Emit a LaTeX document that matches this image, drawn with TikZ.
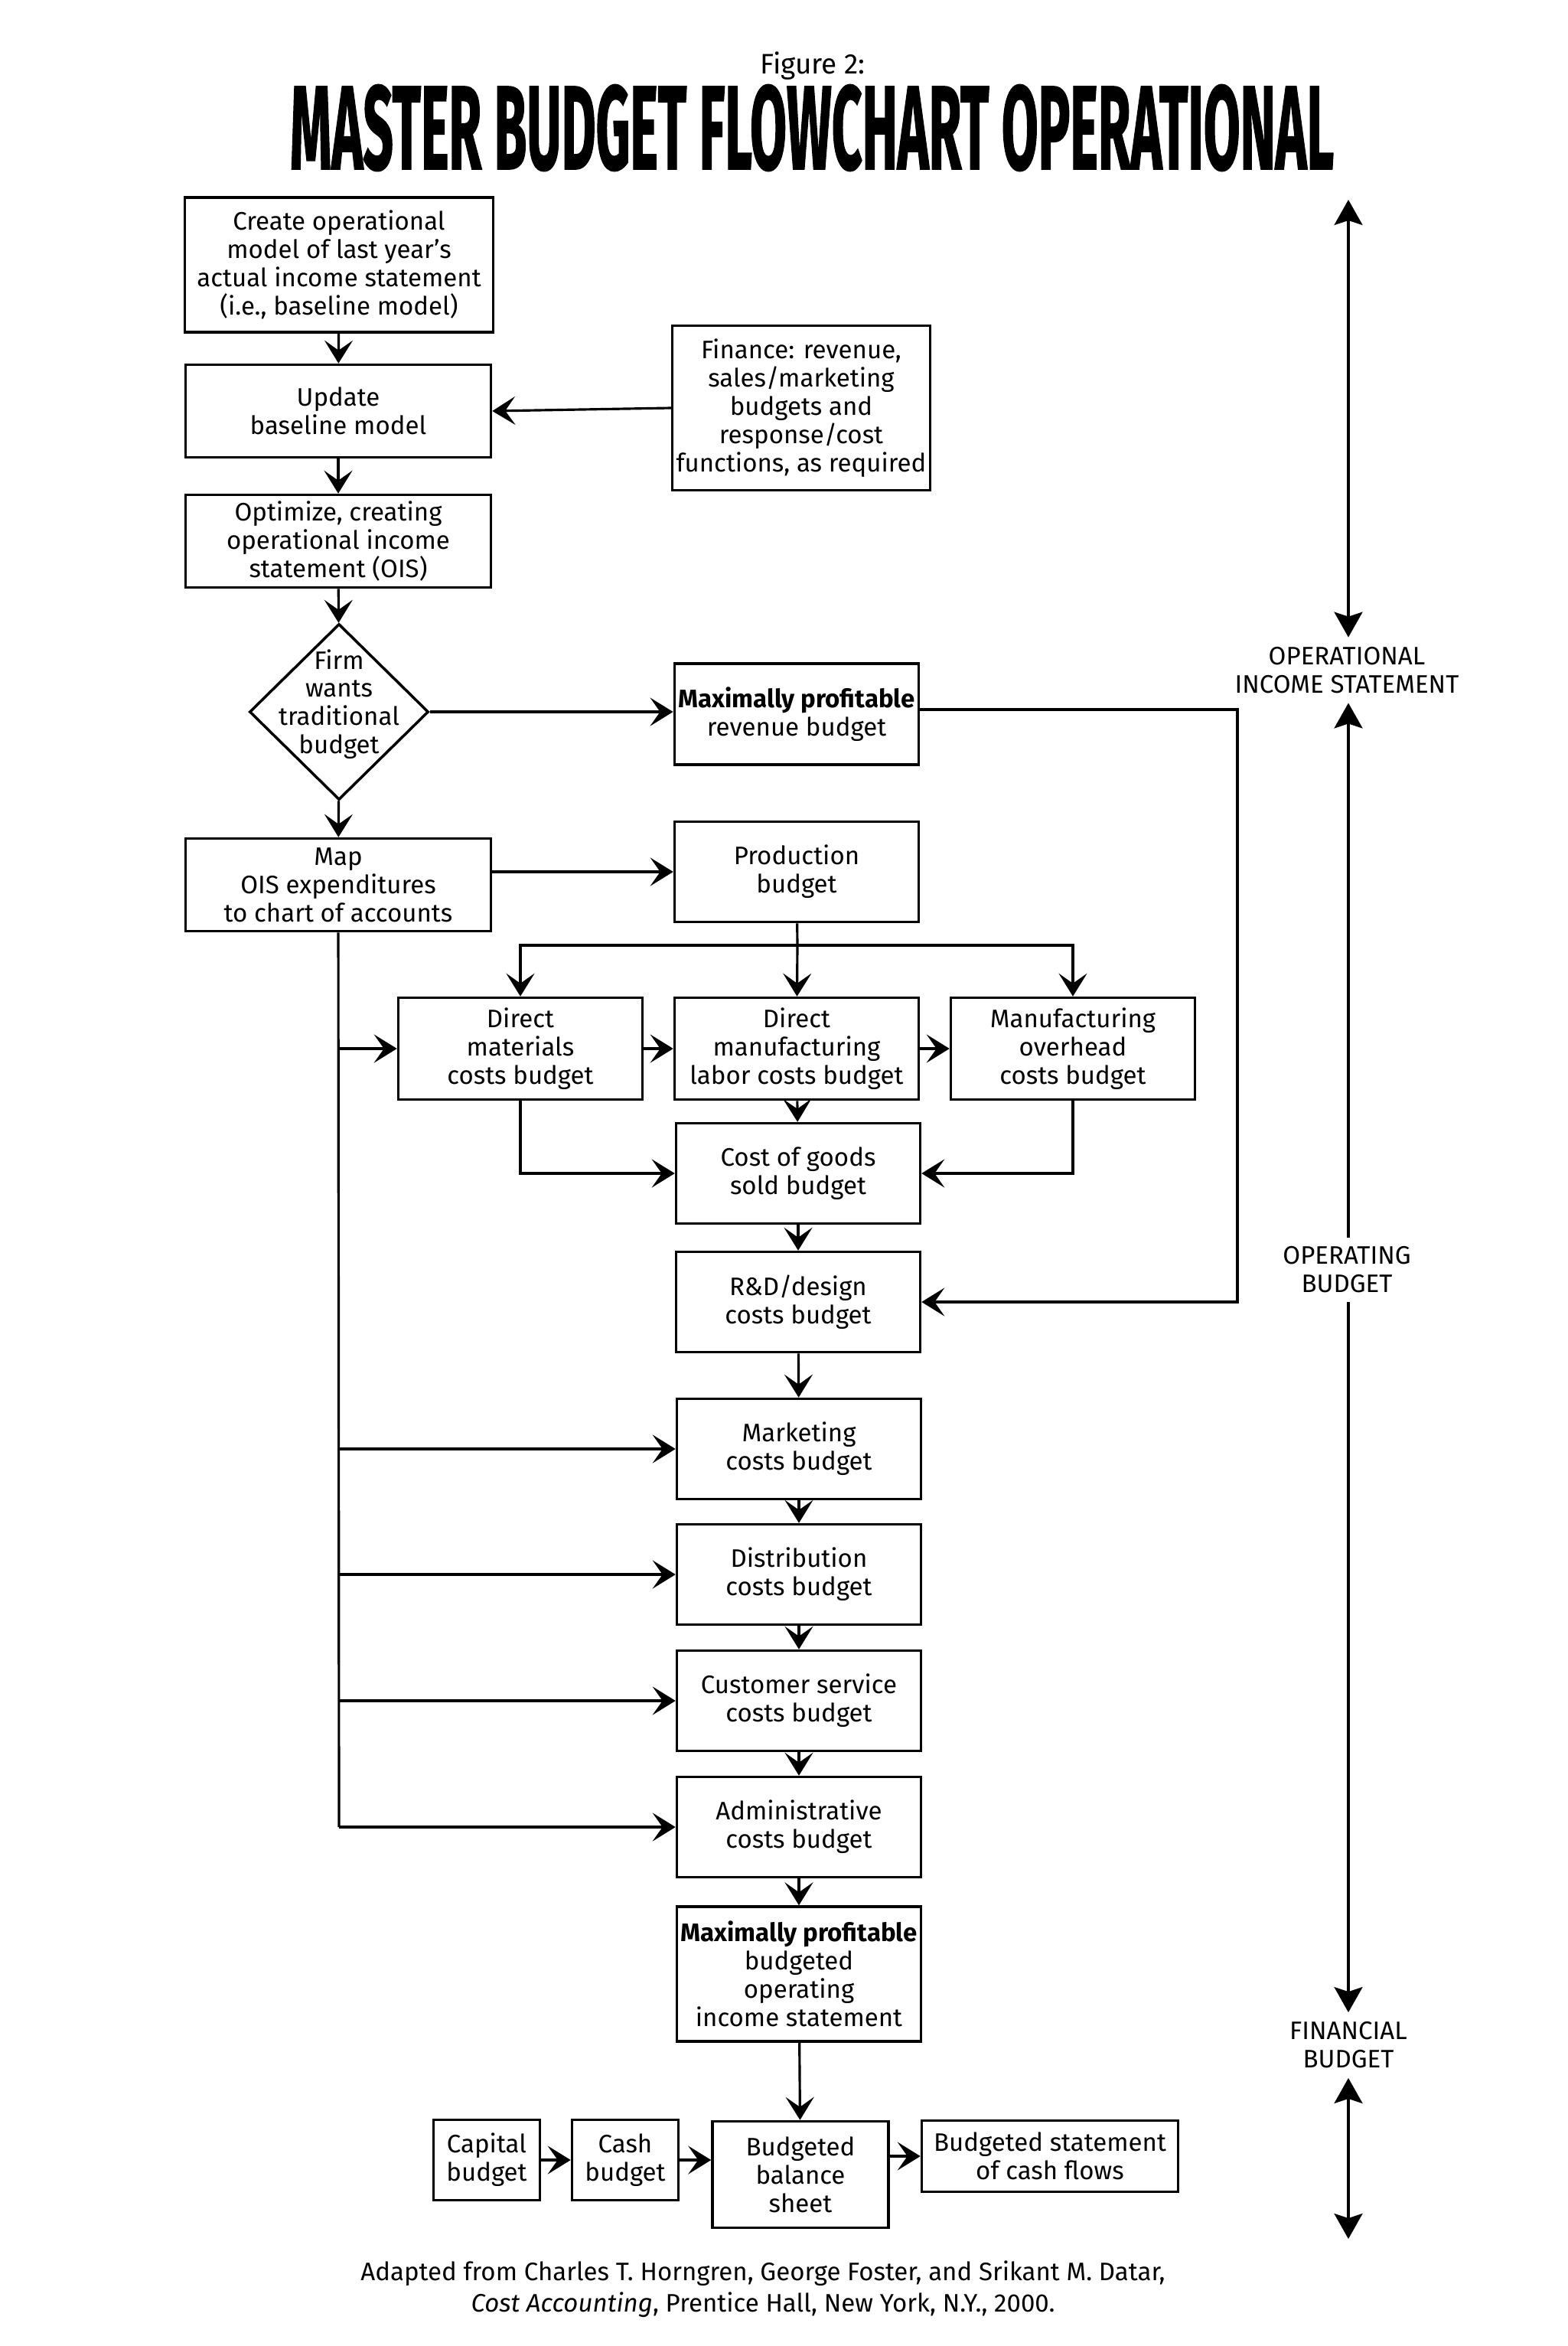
\documentclass[tikz,border=0pt]{standalone}
\usepackage{fontspec}
\usepackage{graphicx}
\setmainfont{Fira Sans}
\setsansfont{Fira Sans}
\newfontfamily\titlefont{Fira Sans}[FakeBold=1.5]
\usetikzlibrary{arrows.meta,positioning,shapes.geometric}
\tikzset{box/.style={draw,line width=1pt,align=center,inner sep=0.5mm},cbox/.style={box,minimum width=3.19cm,minimum height=1.31cm},lbox/.style={box,minimum width=3.99cm,minimum height=1.21cm},decision/.style={draw,diamond,line width=1pt,minimum width=2.34cm,minimum height=2.30cm,inner sep=0pt},link/.style={line width=0.9pt},arr/.style={-{Stealth[length=3mm,width=3.7mm,inset=1.3mm]},line width=0.9pt},axisarr/.style={{Stealth[length=3.3mm,width=3.7mm,inset=0.6mm]}-{Stealth[length=3.3mm,width=3.7mm,inset=0.6mm]},line width=0.9pt},axislabel/.style={align=center,inner sep=1.2mm}}

\begin{document}
\begin{tikzpicture}[font=\fontsize{9.4}{10.5}\selectfont]
\useasboundingbox (0,0) rectangle (20.48,-30.65);
\node[font=\fontsize{10.5}{12}\selectfont] (fig) at (10.62,-0.86) {Figure 2:};
\node[inner sep=0pt] (title) at (10.61,-1.67) {\resizebox{13.64cm}{1.10cm}{\titlefont\bfseries MASTER BUDGET FLOWCHART OPERATIONAL}};
\node[box,minimum width=4.03cm,minimum height=1.76cm] (create) at (4.43,-3.46) {Create operational\\model of last year’s\\actual income statement\\(i.e., baseline model)};
\node[lbox] (update) at (4.42,-5.37) {Update\\baseline model};
\node[box,minimum width=3.32cm,minimum height=2.15cm] (finance) at (10.47,-5.33) {Finance: revenue,\\sales/marketing\\budgets and\\response/cost\\functions, as required};
\node[lbox] (optimize) at (4.42,-7.07) {Optimize, creating\\operational income\\statement (OIS)};
\node[decision,label={[yshift=1mm,align=center]center:{Firm\\wants\\traditional\\budget}}] (firm) at (4.43,-9.30) {};
\node[cbox,minimum height=1.32cm] (maxrev) at (10.41,-9.33) {\textbf{Maximally profitable}\\revenue budget};
\node[lbox] (map) at (4.42,-11.56) {Map\\OIS expenditures\\to chart of accounts};
\node[cbox] (prod) at (10.41,-11.39) {Production\\budget};
\node[cbox,minimum height=1.33cm] (dm) at (6.80,-13.70) {Direct\\materials\\costs budget};
\node[cbox,minimum height=1.33cm] (dl) at (10.41,-13.70) {Direct\\manufacturing\\labor costs budget};
\node[cbox,minimum height=1.33cm] (mo) at (14.02,-13.70) {Manufacturing\\overhead\\costs budget};
\node[cbox] (cogs) at (10.43,-15.33) {Cost of goods\\sold budget};
\node[cbox] (rd) at (10.43,-17.01) {R\&D/design\\costs budget};
\node[cbox] (mkt) at (10.44,-18.93) {Marketing\\costs budget};
\node[cbox] (dist) at (10.44,-20.57) {Distribution\\costs budget};
\node[cbox] (cust) at (10.44,-22.22) {Customer service\\costs budget};
\node[cbox] (admin) at (10.44,-23.87) {Administrative\\costs budget};
\node[cbox,minimum height=1.76cm] (maxois) at (10.44,-25.79) {\textbf{Maximally profitable}\\budgeted\\operating\\income statement};
\node[box,minimum width=1.39cm,minimum height=1.05cm] (capital) at (6.36,-28.22) {Capital\\budget};
\node[box,minimum width=1.39cm,minimum height=1.05cm] (cash) at (8.17,-28.22) {Cash\\budget};
\node[box,minimum width=2.30cm,minimum height=1.39cm] (balance) at (10.46,-28.41) {Budgeted\\balance\\sheet};
\node[box,minimum width=3.35cm,minimum height=0.93cm] (cashflow) at (13.72,-28.17) {Budgeted statement\\of cash flows};
\draw[arr] (create)--(update); \draw[arr] (update)--(optimize); \draw[arr] (optimize)--(firm); \draw[arr] (firm)--(map);
\draw[arr] (finance.west)--(update.east);
\draw[arr] (firm.east)--(firm.east -| maxrev.west);
\draw[arr] (map.east |- prod.west)--(prod.west);
\coordinate (split) at (10.42,-12.35);
\draw[link] (prod)--(split);
\draw[arr] (split)--(dl); \draw[arr] (split)-|(dm); \draw[arr] (split)-|(mo);
\draw[arr] (dm)--(dl); \draw[arr] (dl)--(mo); \draw[arr] (dl)--(cogs);
\draw[arr] (dm)|-(cogs); \draw[arr] (mo)|-(cogs);
\draw[arr] (cogs)--(rd); \draw[arr] (rd)--(mkt); \draw[arr] (mkt)--(dist); \draw[arr] (dist)--(cust); \draw[arr] (cust)--(admin); \draw[arr] (admin)--(maxois); \draw[arr] (maxois)--(balance);
\coordinate (revx) at (16.17,-9.27);
\draw[arr] (maxrev.east |- revx)--(revx)|-(rd);
\coordinate (trunk) at (4.43,-23.87);
\draw[link] (map)--(trunk);
\draw[arr] (trunk |- dm)--(dm);
\foreach \n in {mkt,dist,cust,admin} \draw[arr] (trunk |- \n)--(\n);
\draw[arr] (capital)--(cash); \draw[arr] (cash)--(cash -| balance.west); \draw[arr] (balance.east |- cashflow)--(cashflow);
\node[axislabel] (ois) at (17.60,-8.755) {OPERATIONAL\\INCOME STATEMENT};
\node[axislabel] (fin) at (17.62,-26.72) {FINANCIAL\\BUDGET};
\coordinate (axtop) at (17.62,-2.61); \coordinate (axbot) at (17.62,-29.25);
\draw[axisarr] (axtop)--(axtop |- ois.north); \draw[axisarr] (axtop |- ois.south)--(axtop |- fin.north); \draw[axisarr] (axtop |- fin.south)--(axbot);
\node[axislabel,fill=white] (opb) at (17.60,-16.59) {OPERATING\\BUDGET};
\node[align=center,font=\fontsize{9.4}{11.6}\selectfont] (source) at (9.97,-29.91) {Adapted from Charles T. Horngren, George Foster, and Srikant M. Datar,\\\textit{Cost Accounting}, Prentice Hall, New York, N.Y., 2000.};
\end{tikzpicture}
\end{document}
